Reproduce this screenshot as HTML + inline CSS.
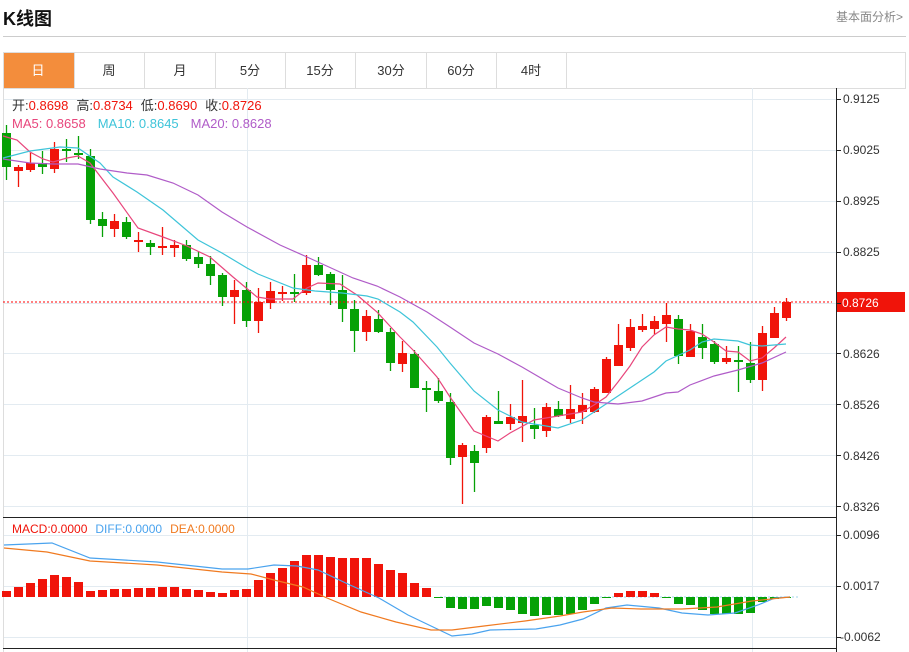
<!DOCTYPE html>
<html><head><meta charset="utf-8"><style>
body{margin:0;width:909px;height:652px;background:#fff;overflow:hidden;font-family:"Liberation Sans","Noto Sans CJK SC",sans-serif;}
.t{position:absolute;}
</style></head><body>
<div class="t" style="left:3px;top:5px;font-size:18px;font-weight:bold;color:#111;">K线图</div>
<div class="t" style="left:836px;top:8px;font-size:12px;color:#888;">基本面分析&gt;</div>
<svg width="909" height="652" style="position:absolute;left:0;top:0" id="s" font-family="Liberation Sans, Noto Sans CJK SC, sans-serif">
<line x1="3" y1="36.5" x2="906" y2="36.5" stroke="#ccc"/>
<rect x="3.5" y="52.5" width="902" height="36" fill="none" stroke="#ddd"/>
<rect x="4" y="53" width="70" height="35" fill="#f38d3c"/>
<g stroke="#ddd"><line x1="74.5" y1="53" x2="74.5" y2="88"/><line x1="144.5" y1="53" x2="144.5" y2="88"/><line x1="215.5" y1="53" x2="215.5" y2="88"/><line x1="285.5" y1="53" x2="285.5" y2="88"/><line x1="355.5" y1="53" x2="355.5" y2="88"/><line x1="426.5" y1="53" x2="426.5" y2="88"/><line x1="496.5" y1="53" x2="496.5" y2="88"/><line x1="566.5" y1="53" x2="566.5" y2="88"/></g>
<g font-size="13" text-anchor="middle" fill="#333">
<text x="38" y="75" fill="#fff">日</text><text x="109" y="75">周</text><text x="180" y="75">月</text><text x="250" y="75">5分</text><text x="320" y="75">15分</text><text x="391" y="75">30分</text><text x="461" y="75">60分</text><text x="531" y="75">4时</text></g>
<g id="grid" stroke="#e3ebf1"></g>
<line x1="3.5" y1="88" x2="3.5" y2="652" stroke="#ddd"/>
<line x1="3" y1="517.5" x2="836" y2="517.5" stroke="#222"/>
<line x1="3" y1="648.5" x2="836" y2="648.5" stroke="#222"/>
<line x1="836.5" y1="88" x2="836.5" y2="652" stroke="#222"/>
<g id="c"></g>
<g id="m"></g>
<line x1="3" y1="302" x2="832" y2="302" stroke="#f00" stroke-dasharray="2,2"/>
<rect x="837" y="292" width="68" height="20" fill="#f0140a"/>
<text x="842" y="307" font-size="12" fill="#fff">0.8726</text>
<g font-size="12" fill="#333">
<text x="843" y="103">0.9125</text><text x="843" y="154">0.9025</text><text x="843" y="205">0.8925</text><text x="843" y="256">0.8825</text><text x="843" y="358">0.8626</text><text x="843" y="409">0.8526</text><text x="843" y="460">0.8426</text><text x="843" y="511">0.8326</text>
<text x="843" y="539">0.0096</text><text x="843" y="590">0.0017</text><text x="840" y="641">-0.0062</text></g>
<text x="12" y="110" font-size="13"><tspan fill="#333">开:</tspan><tspan fill="#f0140a">0.8698</tspan><tspan fill="#333" dx="8">高:</tspan><tspan fill="#f0140a">0.8734</tspan><tspan fill="#333" dx="8">低:</tspan><tspan fill="#f0140a">0.8690</tspan><tspan fill="#333" dx="8">收:</tspan><tspan fill="#f0140a">0.8726</tspan></text>
<text x="12" y="128" font-size="13"><tspan fill="#e8467c">MA5: 0.8658</tspan><tspan fill="#3ec4d9" dx="12">MA10: 0.8645</tspan><tspan fill="#b05cc8" dx="12">MA20: 0.8628</tspan></text>
<text x="12" y="533" font-size="12"><tspan fill="#f0140a">MACD:0.0000</tspan><tspan fill="#4aa3ee" dx="8">DIFF:0.0000</tspan><tspan fill="#f07a20" dx="8">DEA:0.0000</tspan></text>
</svg>
<script>
var N='http://www.w3.org/2000/svg',s=document.getElementById('s');
function el(p,t,a){var e=document.createElementNS(N,t);for(var k in a)e.setAttribute(k,a[k]);p.appendChild(e);return e;}
var g=document.getElementById('grid');
[99,150,201,252,303,353,404,455,506].forEach(function(y){el(g,'line',{x1:4,x2:836,y1:y+.5,y2:y+.5});el(s,'line',{x1:836,x2:841,y1:y+.5,y2:y+.5,stroke:'#222'});});
[535,586,637].forEach(function(y){el(g,'line',{x1:4,x2:836,y1:y+.5,y2:y+.5});el(s,'line',{x1:836,x2:841,y1:y+.5,y2:y+.5,stroke:'#222'});});
[247,752].forEach(function(x){el(g,'line',{x1:x+.5,x2:x+.5,y1:88,y2:652});});
var C=[[133,167,125,180,0],[167,171,165,187,1],[163,170,153,172,1],[163,167,151,174,0],[149,169,142,173,1],[149,151,139,162,0],[153,155,136,159,0],[156,220,149,224,0],[219,226,212,237,0],[221,229,214,237,1],[222,237,217,239,0],[240,242,232,252,1],[243,247,240,255,0],[246,248,227,255,1],[245,248,240,257,1],[245,259,240,261,0],[257,264,252,268,0],[264,276,256,285,0],[275,297,273,306,0],[290,297,280,324,1],[290,321,282,327,0],[302,321,288,333,1],[291,303,282,309,1],[292,293,286,301,1],[292,293,274,302,0],[265,293,255,295,1],[265,275,257,276,0],[274,290,272,305,0],[290,309,275,322,0],[309,331,300,352,0],[316,332,310,341,1],[319,332,310,333,0],[332,363,328,371,0],[353,364,341,372,1],[354,388,350,388,0],[388,390,381,412,0],[391,401,378,403,0],[402,458,393,465,0],[445,457,443,504,1],[451,463,445,492,0],[417,448,415,453,1],[421,424,391,424,0],[417,424,404,430,1],[416,423,380,442,1],[425,429,408,439,0],[407,431,403,437,1],[409,416,401,417,0],[409,419,385,423,1],[405,412,393,424,1],[389,412,387,413,1],[359,393,357,393,1],[345,366,324,366,1],[327,348,319,351,1],[326,330,314,332,1],[321,329,316,334,1],[315,324,303,342,1],[319,356,315,364,0],[331,357,324,357,1],[337,348,324,359,0],[344,362,341,364,0],[358,362,346,364,1],[360,362,346,392,0],[363,380,342,383,0],[333,380,326,391,1],[313,338,307,338,1],[302,318,298,321,1]];
var cg=document.getElementById('c');
C.forEach(function(d,i){var x=6.5+12*i,col=d[4]?'#f0140a':'#06a106';el(cg,'line',{x1:x,x2:x,y1:d[2],y2:d[3],stroke:col,'stroke-width':1.3});el(cg,'rect',{x:x-4.5,y:d[0],width:9,height:Math.max(2,d[1]-d[0]),fill:col});});
var M=[[591,1],[587,1],[583,1],[579,1],[575,1],[577,1],[582,1],[591,1],[590,1],[589,1],[589,1],[588,1],[588,1],[587,1],[587,1],[589,1],[590,1],[592,1],[593,1],[590,1],[589,1],[580,1],[573,1],[568,1],[561,1],[555,1],[555,1],[557,1],[558,1],[558,1],[558,1],[564,1],[570,1],[573,1],[583,1],[588,1],[598,0],[608,0],[609,0],[609,0],[606,0],[608,0],[610,0],[614,0],[616,0],[615,0],[615,0],[614,0],[610,0],[604,0],[598,0],[593,1],[591,1],[591,1],[593,1],[598,0],[604,0],[605,0],[610,0],[614,0],[614,0],[614,0],[613,0],[602,0],[599,0],[598,0]];
var mg=document.getElementById('m'),Z=597;
el(mg,'line',{x1:440,x2:800,y1:Z,y2:Z,stroke:'#9fd6ec','stroke-dasharray':'2,2'});
M.forEach(function(d,i){var x=6.5+12*i,col=d[1]?'#f0140a':'#06a106';var y0=Math.min(d[0],Z),h=Math.abs(d[0]-Z);el(mg,'rect',{x:x-4.5,y:y0,width:9,height:Math.max(1,h),fill:col});});
function pl(pts,col,w){el(s,'polyline',{points:pts,fill:'none',stroke:col,'stroke-width':w||1.2});}
pl("3,136 17,140 30,152 43,159 53,162 67,158 78,156 90,163 113,193 138,228 163,237 187,246 210,257 233,277 257,297 270,299 293,299 307,288 318,283 340,284 357,295 377,312 400,337 413,350 437,377 450,397 474,431 498,441 510,433 534,420 558,416 582,412 594,405 606,397 618,382 630,366 642,347 654,335 666,327 678,329 690,330 702,334 714,342 726,351 738,352 750,361 762,358 774,348 786,337","#e8467c");
pl("3,158 30,151 60,147 78,148 100,163 113,177 137,192 163,210 198,240 222,253 247,268 258,274 293,288 315,291 342,293 367,296 378,299 400,312 413,322 437,347 450,363 474,391 498,410 522,422 558,428 582,420 594,412 606,404 630,388 654,372 666,361 690,350 702,342 714,339 738,341 750,345 762,346 786,344","#3ec4d9");
pl("3,159 30,163 53,164 78,164 100,169 127,173 147,175 173,183 198,195 222,212 247,227 280,245 307,257 353,278 377,286 400,297 427,312 450,327 474,343 498,354 522,367 558,388 582,398 594,402 618,404 642,401 666,393 678,392 690,385 714,376 738,370 762,363 786,352","#b05cc8");
pl("4,545 52,543 90,558 157,562 222,569 248,569 274,565 297,566 318,570 350,585 379,598 408,615 452,636 472,634 490,630 536,629 560,625 583,619 606,608 627,605 659,608 682,613 708,615 735,613 758,605 775,598 790,597","#4aa3ee");
pl("4,548 47,552 90,561 157,565 222,572 251,574 274,580 303,587 327,598 361,612 396,622 431,630 452,630 484,626 525,621 560,616 583,612 612,608 641,609 682,609 717,607 752,601 790,597","#f07a20");
</script>
</body></html>
